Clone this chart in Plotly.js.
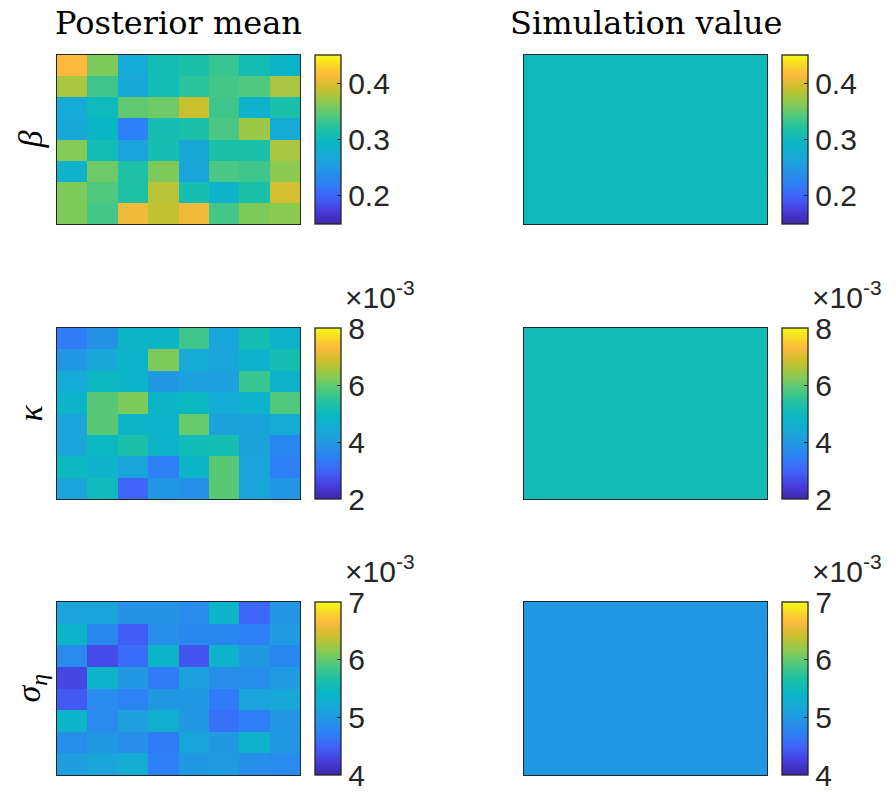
<!DOCTYPE html>
<html>
<head>
<meta charset="utf-8">
<script src="https://cdn.plot.ly/plotly-3.0.1.min.js"></script>
<style>
  html, body { margin: 0; padding: 0; background: #fff; }
  #chart { width: 896px; height: 792px; }
</style>
</head>
<body>
<div id="chart"></div>
<script>
// Posterior means on an 8 x 8 grid (row 1 = top row), one grid per parameter
const betaPost = [
  [0.414, 0.360, 0.270, 0.306, 0.315, 0.330, 0.306, 0.288],
  [0.378, 0.333, 0.267, 0.306, 0.324, 0.336, 0.342, 0.378],
  [0.270, 0.300, 0.348, 0.354, 0.390, 0.333, 0.285, 0.315],
  [0.267, 0.294, 0.222, 0.309, 0.315, 0.339, 0.372, 0.270],
  [0.363, 0.306, 0.261, 0.309, 0.267, 0.315, 0.315, 0.378],
  [0.285, 0.354, 0.318, 0.360, 0.264, 0.339, 0.333, 0.366],
  [0.360, 0.342, 0.318, 0.384, 0.309, 0.285, 0.315, 0.396],
  [0.360, 0.336, 0.408, 0.387, 0.408, 0.336, 0.360, 0.366]
];
// kappa and sigma_eta are given in units of 1e-3
const kappaPost = [
  [3.38, 3.86, 4.82, 4.82, 5.66, 4.28, 5.18, 4.70],
  [3.92, 4.34, 4.76, 6.20, 4.40, 4.28, 4.70, 5.18],
  [4.40, 4.94, 4.76, 3.98, 4.16, 4.16, 5.60, 4.70],
  [4.76, 5.90, 6.20, 4.82, 4.94, 4.46, 4.70, 5.84],
  [4.28, 5.90, 4.82, 4.76, 6.02, 4.22, 4.22, 4.46],
  [4.28, 4.94, 5.30, 4.70, 5.06, 5.18, 4.22, 3.62],
  [4.94, 4.70, 4.28, 3.44, 4.82, 5.90, 4.28, 3.44],
  [4.28, 5.00, 3.02, 3.98, 3.80, 5.90, 4.28, 3.92]
];
const sigmaPost = [
  [5.11, 5.11, 4.93, 4.93, 4.84, 5.38, 4.51, 4.96],
  [5.38, 4.81, 4.45, 4.87, 4.81, 4.81, 4.72, 5.02],
  [4.84, 4.33, 4.57, 5.38, 4.39, 5.35, 4.99, 4.81],
  [4.30, 5.38, 4.96, 4.69, 5.08, 4.87, 4.87, 5.02],
  [4.42, 4.84, 4.75, 4.99, 4.99, 4.69, 5.11, 5.17],
  [5.38, 4.84, 5.08, 5.29, 4.99, 4.60, 4.72, 4.96],
  [4.87, 4.99, 4.87, 4.69, 5.14, 4.99, 5.35, 4.96],
  [5.05, 5.14, 5.26, 4.72, 4.99, 5.02, 4.87, 4.84]
];

// True values used in the simulation
const betaSim = 0.30;
const kappaSim = 5.1;
const sigmaSim = 5.0;

// Colour limits and colorbar ticks per parameter
const betaRange = [0.15, 0.45];
const kappaRange = [2, 8];
const sigmaRange = [4, 7];
const betaTicks = [0.2, 0.3, 0.4];
const kappaTicks = [2, 4, 6, 8];
const sigmaTicks = [4, 5, 6, 7];

const paramLabels = ['<i>β</i>', '<i>κ</i>', '<i>σ</i><sub><i>η</i></sub>'];
const columnTitles = ['Posterior mean', 'Simulation value'];

// MATLAB parula-like colour map
const parula = [
  [0.00, 'rgb(62,38,168)'],
  [0.08, 'rgb(71,62,222)'],
  [0.16, 'rgb(64,98,250)'],
  [0.24, 'rgb(45,128,245)'],
  [0.32, 'rgb(35,150,228)'],
  [0.40, 'rgb(22,170,214)'],
  [0.48, 'rgb(9,183,196)'],
  [0.56, 'rgb(30,193,165)'],
  [0.64, 'rgb(80,200,125)'],
  [0.72, 'rgb(140,202,80)'],
  [0.80, 'rgb(200,192,45)'],
  [0.88, 'rgb(252,185,60)'],
  [0.94, 'rgb(248,215,40)'],
  [1.00, 'rgb(249,251,20)']
];

const W = 896, H = 792;
const px = v => v / W;
const py = v => 1 - v / H;
const ink = '#262626';

const colX = [[57, 300], [524, 767]];
const cbX = [315, 782];
const rowY = [[55, 224], [328, 499], [602, 775]];

const rows = [
  {post: betaPost, sim: betaSim, range: betaRange, ticks: betaTicks},
  {post: kappaPost, sim: kappaSim, range: kappaRange, ticks: kappaTicks},
  {post: sigmaPost, sim: sigmaSim, range: sigmaRange, ticks: sigmaTicks}
];

const traces = [];
const layout = {
  width: W, height: H,
  margin: {l: 0, r: 0, t: 0, b: 0},
  paper_bgcolor: '#fff', plot_bgcolor: '#fff',
  showlegend: false,
  annotations: []
};

let k = 0;
rows.forEach((r, ri) => {
  [r.post, [[r.sim]]].forEach((z, ci) => {
    k += 1;
    const xa = 'xaxis' + (k === 1 ? '' : k);
    const ya = 'yaxis' + (k === 1 ? '' : k);
    const top = rowY[ri][0], bot = rowY[ri][1];
    traces.push({
      type: 'heatmap',
      z: z,
      xaxis: 'x' + (k === 1 ? '' : k),
      yaxis: 'y' + (k === 1 ? '' : k),
      colorscale: parula,
      zmin: r.range[0], zmax: r.range[1],
      hoverinfo: 'z',
      colorbar: {
        x: px(cbX[ci]), xanchor: 'left', xref: 'paper',
        y: py(top), yanchor: 'top', yref: 'paper',
        len: (bot - top) / H, lenmode: 'fraction',
        thickness: 26, thicknessmode: 'pixels',
        xpad: 0, ypad: 0,
        outlinewidth: 1.3, outlinecolor: ink,
        tickmode: 'array', tickvals: r.ticks,
        ticks: 'inside', ticklen: 4, tickcolor: ink, tickwidth: 1,
        tickfont: {family: 'Liberation Sans, Arial, sans-serif', size: 30, color: ink}
      }
    });
    const axCommon = {
      showticklabels: false, ticks: '', showgrid: false, zeroline: false,
      showline: true, mirror: true, linecolor: ink, linewidth: 1.3
    };
    layout[xa] = Object.assign({}, axCommon, {
      domain: [px(colX[ci][0]), px(colX[ci][1])],
      anchor: 'y' + (k === 1 ? '' : k)
    });
    layout[ya] = Object.assign({}, axCommon, {
      domain: [py(bot), py(top)],
      anchor: 'x' + (k === 1 ? '' : k),
      autorange: 'reversed'
    });
    // exponent label above the colorbars of the 1e-3 parameters
    if (ri > 0) {
      layout.annotations.push({
        xref: 'paper', yref: 'paper',
        x: px(cbX[ci] + 28), xanchor: 'left',
        y: py(top - 12), yanchor: 'bottom',
        text: '×10<sup>-3</sup>', showarrow: false,
        font: {family: 'Liberation Sans, Arial, sans-serif', size: 30, color: ink}
      });
    }
  });
  // parameter label to the left of each row
  layout.annotations.push({
    xref: 'paper', yref: 'paper',
    x: px(30), y: py((rowY[ri][0] + rowY[ri][1]) / 2),
    xanchor: 'center', yanchor: 'middle',
    text: paramLabels[ri], textangle: -90, showarrow: false,
    font: {family: 'Liberation Serif, DejaVu Serif, serif', size: 34, color: '#000'}
  });
});

// column titles
columnTitles.forEach((t, ci) => {
  layout.annotations.push({
    xref: 'paper', yref: 'paper',
    x: px((colX[ci][0] + colX[ci][1]) / 2 + (ci === 1 ? 1 : 0)),
    y: py(23), xanchor: 'center', yanchor: 'middle',
    text: t, showarrow: false,
    font: {family: 'DejaVu Serif, Liberation Serif, serif', size: 32, color: '#000'}
  });
});

Plotly.newPlot('chart', traces, layout, {staticPlot: true, displayModeBar: false});
</script>
</body>
</html>
